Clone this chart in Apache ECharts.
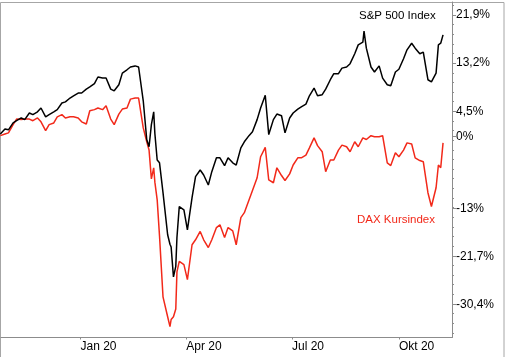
<!DOCTYPE html>
<html>
<head>
<meta charset="utf-8">
<script src="https://cdn.jsdelivr.net/npm/echarts@6/dist/echarts.min.js"></script>
<style>
html,body{margin:0;padding:0;background:#fff;}
#c{width:506px;height:357px;}
</style>
</head>
<body>
<div id="c"></div>
<script>
const dates = ['2019-10-24','2019-10-28','2019-10-31','2019-11-04','2019-11-07','2019-11-11','2019-11-14','2019-11-18','2019-11-21','2019-11-25','2019-11-28','2019-12-02','2019-12-05','2019-12-09','2019-12-12','2019-12-16','2019-12-19','2019-12-23','2019-12-26','2019-12-30','2020-01-02','2020-01-06','2020-01-09','2020-01-13','2020-01-16','2020-01-20','2020-01-23','2020-01-27','2020-01-30','2020-02-03','2020-02-06','2020-02-10','2020-02-13','2020-02-17','2020-02-20','2020-02-24','2020-02-27','2020-02-29','2020-03-02','2020-03-04','2020-03-05','2020-03-07','2020-03-09','2020-03-12','2020-03-16','2020-03-18','2020-03-19','2020-03-21','2020-03-23','2020-03-24','2020-03-26','2020-03-30','2020-04-02','2020-04-06','2020-04-09','2020-04-13','2020-04-16','2020-04-20','2020-04-23','2020-04-27','2020-04-30','2020-05-04','2020-05-07','2020-05-11','2020-05-14','2020-05-18','2020-05-21','2020-05-25','2020-05-28','2020-06-01','2020-06-04','2020-06-08','2020-06-11','2020-06-15','2020-06-18','2020-06-22','2020-06-25','2020-06-29','2020-07-02','2020-07-06','2020-07-09','2020-07-13','2020-07-16','2020-07-20','2020-07-23','2020-07-27','2020-07-30','2020-08-03','2020-08-06','2020-08-10','2020-08-13','2020-08-17','2020-08-20','2020-08-24','2020-08-27','2020-08-31','2020-09-01','2020-09-03','2020-09-07','2020-09-10','2020-09-14','2020-09-17','2020-09-21','2020-09-24','2020-09-28','2020-10-01','2020-10-05','2020-10-08','2020-10-12','2020-10-15','2020-10-19','2020-10-22','2020-10-26','2020-10-29','2020-11-02','2020-11-04','2020-11-06','2020-11-08'];

const spValues = [0.4,1.3,1.15,2.4,2.8,3.3,3.0,4.2,3.9,4.4,5.1,3.5,3.9,4.4,4.8,6.0,6.2,6.9,7.3,7.8,7.8,8.5,8.9,9.5,10.7,10.5,10.5,8.5,8.2,9.3,11.4,12.0,12.5,12.7,12.5,6.4,-0.6,-1.9,2.1,4.4,0.5,-4.3,-4.8,-10.2,-17.8,-19.5,-20.0,-25.4,-23.5,-18.3,-12.7,-13.3,-16.9,-11.1,-7.3,-6.1,-7.0,-8.8,-6.4,-3.9,-3.9,-5.3,-3.9,-4.8,-5.2,-2.1,-1.0,0.1,0.8,3.0,5.1,7.4,0.3,3.0,4.0,3.7,0.6,3.3,4.2,4.9,5.3,5.8,7.3,8.7,7.3,7.5,8.5,10.2,11.3,11.3,12.3,12.5,13.1,14.9,16.5,17.0,19.0,15.9,12.5,11.6,12.7,10.5,9.3,9.1,11.6,12.1,14.0,15.6,16.8,15.9,14.9,15.2,10.2,9.8,11.4,16.5,16.8,18.3];

const daxValues = [0.1,0.4,0.6,2.1,3.1,3.0,3.1,3.1,2.8,3.3,2.6,1.0,2.1,2.4,3.5,3.9,3.3,3.5,3.5,3.3,2.6,2.2,4.6,4.8,5.1,4.8,5.5,3.1,2.1,4.0,4.9,5.1,6.7,6.9,6.9,1.5,-1.0,-2.5,-7.7,-5.7,-8.3,-11.5,-18.0,-29.0,-32.6,-34.4,-33.1,-32.6,-31.2,-24.5,-22.6,-23.2,-25.9,-19.6,-18.7,-17.2,-18.7,-20.1,-18.7,-16.5,-16.0,-18.3,-16.5,-17.1,-19.6,-14.7,-13.8,-11.5,-9.8,-7.5,-3.7,-2.0,-7.9,-8.4,-5.7,-7.1,-8.0,-6.8,-5.2,-3.9,-3.9,-3.4,-2.1,-0.3,-1.7,-2.8,-6.4,-4.3,-4.3,-2.5,-1.6,-1.9,-2.8,-1.0,-1.9,-0.3,-0.1,-0.6,0.1,-0.1,-0.1,0.1,-4.8,-5.3,-3.0,-3.7,-2.5,-1.2,-1.4,-3.9,-4.4,-4.6,-10.2,-12.7,-9.3,-5.2,-5.7,-1.2];

const yTickLabels = [21.9, 13.2, 4.5, 0, -13, -21.7, -30.4];
const xTickDates = ['2020-01-01','2020-04-01','2020-07-01','2020-10-01'];
const xTickLabels = ['Jan 20','Apr 20','Jul 20','Okt 20'];
const seriesNames = ['S&P 500 Index', 'DAX Kursindex'];

function ts(s){ const p = s.split('-').map(Number); return Date.UTC(p[0], p[1]-1, p[2]); }
const H = 3600e3;
const yMin = -36.35, yMax = 24.24;
const minorTicks = [];
for (let v = 21.9 + 1.74; v >= yMin; v -= 1.74) minorTicks.push(+v.toFixed(2));
const xTicks = xTickDates.map(ts);

const chart = echarts.init(document.getElementById('c'), null, {renderer:'canvas'});
const font = 'Arial, "Liberation Sans", sans-serif';
chart.setOption({
  animation: false,
  backgroundColor: '#fff',
  grid: {left: 1, right: 54, top: 2, bottom: 19.5, containLabel: false},
  xAxis: {
    type: 'value',
    min: ts('2019-10-24') + 14*H,
    max: ts('2020-11-15') + 17*H,
    axisLine: {show: true, onZero: false, lineStyle: {color: '#8c8c8c', width: 1}},
    axisTick: {show: true, length: 2, customValues: xTicks, lineStyle: {color: '#8c8c8c'}},
    axisLabel: {show: true, customValues: xTicks, align: 'left', margin: 3,
      color: '#000', fontSize: 12, fontFamily: font,
      formatter: v => xTickLabels[xTicks.indexOf(v)] || ''},
    splitLine: {show: false}
  },
  yAxis: [{
    type: 'value', position: 'right', min: yMin, max: yMax,
    axisLine: {show: true, lineStyle: {color: '#8c8c8c', width: 1}},
    axisTick: {show: true, length: 4, customValues: yTickLabels, lineStyle: {color: '#8c8c8c'}},
    axisLabel: {show: true, customValues: yTickLabels, margin: 4, color: '#000', fontSize: 12, fontFamily: font,
      formatter: v => String(v).replace('.', ',') + '%'},
    splitLine: {show: false}
  }, {
    type: 'value', position: 'right', min: yMin, max: yMax,
    axisLine: {show: false},
    axisTick: {show: true, length: 2, customValues: minorTicks, lineStyle: {color: '#8c8c8c'}},
    axisLabel: {show: false},
    splitLine: {show: false}
  }],
  series: [{
    name: seriesNames[0], type: 'line', yAxisIndex: 0, symbol: 'none',
    lineStyle: {color: '#000', width: 1.5}, itemStyle: {color: '#000'},
    data: dates.map((d, i) => [ts(d), spValues[i]]), z: 3
  }, {
    name: seriesNames[1], type: 'line', yAxisIndex: 0, symbol: 'none',
    lineStyle: {color: '#f2291a', width: 1.5}, itemStyle: {color: '#f2291a'},
    data: dates.map((d, i) => [ts(d), daxValues[i]]), z: 2
  }],
  graphic: [
    {type: 'rect', shape: {x: 0.5, y: 2.5, width: 503.5, height: 400}, style: {fill: 'none', stroke: '#a6a6a6', lineWidth: 1}, z: 0, silent: true},
    {type: 'text', left: 359, top: 10, style: {text: seriesNames[0], fill: '#000', font: '11.5px ' + font}},
    {type: 'text', left: 357, top: 214, style: {text: seriesNames[1], fill: '#f2291a', font: '11.5px ' + font}}
  ]
});
</script>
</body>
</html>
